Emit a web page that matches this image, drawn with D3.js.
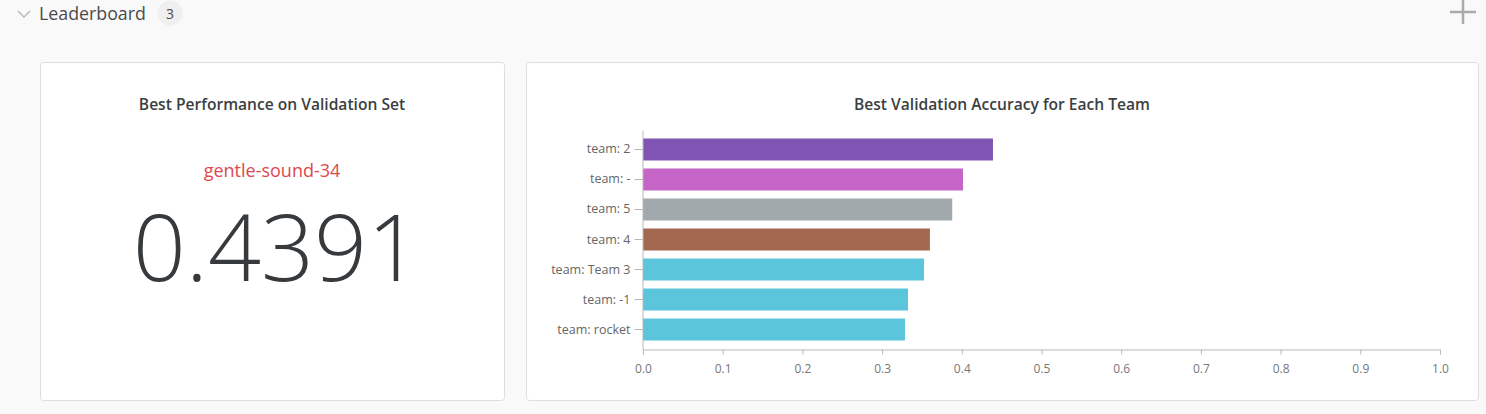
<!DOCTYPE html>
<html><head><meta charset="utf-8">
<script src="https://cdn.jsdelivr.net/npm/d3@7"></script>
<style>
html,body{margin:0;padding:0;background:#f9f9f9;}
svg{display:block;font-family:"Open Sans","Noto Sans",sans-serif;}
</style></head><body>
<svg id="c" width="1486" height="414"></svg>
<script>
const teams = ["team: 2","team: -","team: 5","team: 4","team: Team 3","team: -1","team: rocket"];
const accuracy = [0.4391,0.4015,0.388,0.360,0.3526,0.3325,0.3287];
const barColors = ["#7f54b3","#c565c7","#a1a9ad","#a46750","#5bc5db","#5bc5db","#5bc5db"];
const xTicks = [0,0.1,0.2,0.3,0.4,0.5,0.6,0.7,0.8,0.9,1.0];
const bestRun = "gentle-sound-34";
const bestValue = 0.4391;

const svg = d3.select("#c");

// header
svg.append("path").attr("d","M18,11 L24,17 L30,11").attr("fill","none").attr("stroke","#b5b5b5").attr("stroke-width",1.3);
svg.append("text").attr("x",39).attr("y",20).attr("font-size",17.8).attr("fill","#4a4a4a").text("Leaderboard");
svg.append("circle").attr("cx",170).attr("cy",13).attr("r",12.5).attr("fill","#efefef");
svg.append("text").attr("x",170).attr("y",18.5).attr("text-anchor","middle").attr("font-size",14).attr("fill","#4a4a4a").text("3");
svg.append("line").attr("x1",1463).attr("x2",1463).attr("y1",0).attr("y2",24).attr("stroke","#aaa").attr("stroke-width",2.5);
svg.append("line").attr("x1",1450).attr("x2",1476).attr("y1",12).attr("y2",12).attr("stroke","#aaa").attr("stroke-width",2.5);

// panels
svg.append("rect").attr("x",40.5).attr("y",62.5).attr("width",464).attr("height",338).attr("rx",3).attr("fill","#fff").attr("stroke","#dedede");
svg.append("rect").attr("x",526.5).attr("y",62.5).attr("width",952).attr("height",338).attr("rx",3).attr("fill","#fff").attr("stroke","#dedede");

// left panel
svg.append("text").attr("x",272).attr("y",110).attr("text-anchor","middle").attr("font-size",15.6).attr("font-weight",600).attr("fill","#3b3f42").text("Best Performance on Validation Set");
svg.append("text").attr("x",272).attr("y",177).attr("text-anchor","middle").attr("font-size",18).attr("fill","#e0474c").text(bestRun);
svg.append("text").attr("x",276.5).attr("y",281).attr("text-anchor","middle").attr("font-size",93).attr("font-weight",300).attr("fill","#363a3d").text(bestValue.toFixed(4));

// right panel chart
svg.append("text").attr("x",1002).attr("y",110).attr("text-anchor","middle").attr("font-size",15.6).attr("font-weight",600).attr("fill","#3b3f42").text("Best Validation Accuracy for Each Team");

const x = d3.scaleLinear().domain([0,1]).range([643,1440]);
const y = d3.scaleBand().domain(teams).range([130,349]).paddingInner(0.2667).paddingOuter(0.283);

const g = svg.append("g");
g.selectAll("rect.bar").data(teams).join("rect").attr("class","bar")
  .attr("x",x(0)).attr("y",d=>y(d)).attr("height",y.bandwidth())
  .attr("width",(d,i)=>x(accuracy[i])-x(0)).attr("fill",(d,i)=>barColors[i]);

const xa = svg.append("g").attr("transform","translate(0,349.5)")
  .call(d3.axisBottom(x).tickValues(xTicks).tickFormat(d3.format(".1f")).tickSize(5).tickPadding(10));
xa.select(".domain").attr("stroke","#b8b8b8");
xa.selectAll(".tick line").attr("stroke","#b8b8b8");
xa.selectAll(".tick text").attr("fill","#777").attr("font-size",12).attr("font-family","Open Sans, sans-serif");

const ya = svg.append("g").attr("transform","translate(642.5,0)")
  .call(d3.axisLeft(y).tickSize(8).tickPadding(4).tickSizeOuter(0));
ya.select(".domain").attr("stroke","#b8b8b8");
ya.selectAll(".tick line").attr("stroke","#b8b8b8");
ya.selectAll(".tick text").attr("fill","#666").attr("font-size",12.5).attr("font-family","Open Sans, sans-serif");
</script>
</body></html>
